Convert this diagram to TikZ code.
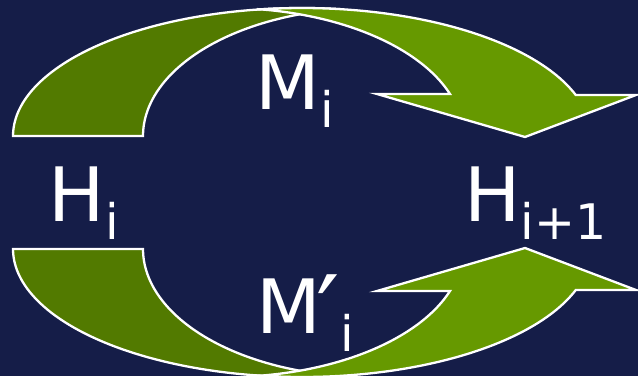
\documentclass[tikz,border=0pt]{standalone}
\usepackage{fontspec}
\setmainfont{DejaVu Sans}
\definecolor{bg}{RGB}{21,29,72}
\definecolor{darkg}{RGB}{82,122,0}
\definecolor{lightg}{RGB}{102,153,0}
\newcommand{\bigprime}{{\fontsize{104}{110}\selectfont\raisebox{-17pt}{′}}}
\tikzset{
  darkband/.style={fill=darkg, draw=white, line width=2.3pt, line join=miter},
  lightband/.style={fill=lightg, draw=white, line width=2.3pt, line join=miter},
  lbl/.style={text=white, inner sep=0pt, outer sep=0pt, anchor=base west},
  big/.style={font=\fontsize{75}{80}\selectfont},
  small/.style={font=\fontsize{49}{52}\selectfont}
}
\begin{document}
\begin{tikzpicture}[x=1pt,y=-1pt]
\fill[bg] (0,0) rectangle (638,376);
\useasboundingbox (0,0) rectangle (638,376);
\clip (0,0) rectangle (638,376);
% top arrow: back (dark) band
\path[darkband]
  plot[domain=180:277.6, samples=60] ({302+289*cos(\x)}, {136+128*sin(\x)})
  -- plot[domain=262.4:180, samples=60] ({370+227*cos(\x)}, {136+128*sin(\x)})
  -- cycle;
% top arrow: front (light) band with head
\path[lightband]
  plot[domain=261.2:341.3, samples=60] ({302+289*cos(\x)}, {136+128*sin(\x)})
  -- (636,95) -- (525,137) -- (377,94)
  -- plot[domain=340.86:277.7, samples=60] ({226.3+236.8*cos(\x)}, {136+128*sin(\x)})
  -- cycle;
% bottom arrow: back (dark) band
\path[darkband]
  plot[domain=180:277.6, samples=60] ({302+289*cos(\x)}, {249-128*sin(\x)})
  -- plot[domain=262.4:180, samples=60] ({370+227*cos(\x)}, {249-128*sin(\x)})
  -- cycle;
% bottom arrow: front (light) band with head
\path[lightband]
  plot[domain=261.2:341.3, samples=60] ({302+289*cos(\x)}, {249-128*sin(\x)})
  -- (636,290) -- (525,248) -- (377,291)
  -- plot[domain=340.86:277.7, samples=60] ({226.3+236.8*cos(\x)}, {249-128*sin(\x)})
  -- cycle;
% labels
\node[lbl, big] (Hi) at (48.6,221) {H};
\node[lbl, small] (Hisub) at (105,239) {i};
\node[lbl, big] (Mi) at (255.6,109) {M};
\node[lbl, small] (Misub) at (320.5,127) {i};
\node[lbl, big] (Mpi) at (256.6,333) {M\kern-5.3pt\bigprime};
\node[lbl, small] (Mpisub) at (340,351) {i};
\node[lbl, big] (Hn) at (464.6,221) {H};
\node[lbl, small] (Hnsub) at (520.6,239) {i+1};
\end{tikzpicture}
\end{document}
